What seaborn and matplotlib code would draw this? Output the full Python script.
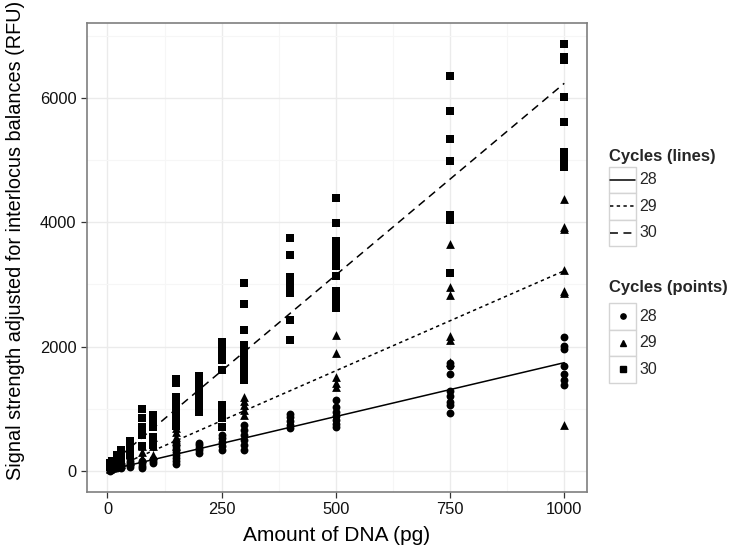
import numpy as np
import pandas as pd
import matplotlib
matplotlib.use("Agg")
import matplotlib.pyplot as plt
from matplotlib.patches import Rectangle
from matplotlib.lines import Line2D
import seaborn as sns

# ---------------- data ----------------
amounts = [5, 10, 20, 30, 50, 75, 100, 150, 200, 250, 300, 400, 500, 750, 1000]

rfu_28 = [[0, 20, 30, 40], [20, 40, 60], [40, 60, 90], [50, 80, 110],
          [60, 90, 120, 150], [40, 80, 130, 160], [120, 160, 190],
          [100, 150, 200, 250, 300, 350, 400, 450],
          [290, 330, 370, 410, 450],
          [340, 400, 460, 520, 580],
          [340, 420, 500, 580, 660, 740],
          [680, 740, 800, 860, 920],
          [700, 760, 820, 880, 950, 1030, 1140],
          [930, 1060, 1110, 1210, 1290, 1560, 1690, 1740],
          [1380, 1460, 1560, 1680, 1960, 2010, 2150]]

rfu_29 = [[30, 50], [50, 80], [80, 120], [100, 160], [150, 250],
          [200, 300, 400], [250, 400, 550],
          [400, 480, 550, 620, 680],
          [], [],
          [900, 980, 1050, 1120, 1190],
          [],
          [1350, 1420, 1510, 1900, 2190],
          [1750, 2110, 2170, 2830, 2960, 3650],
          [740, 2870, 2900, 3230, 3900, 3930, 4380]]

rfu_30 = [[60, 90, 120], [90, 130, 160], [120, 180, 250], [150, 250, 340],
          [250, 350, 480], [400, 580, 700, 850, 1000],
          [420, 550, 700, 800, 900],
          [720, 800, 900, 1000, 1100, 1190, 1420, 1480],
          [950, 1050, 1150, 1250, 1370, 1470, 1520],
          [710, 850, 950, 1060, 1620, 1790, 1850, 1930, 2000, 2080],
          [1460, 1500, 1600, 1700, 1800, 1900, 2030, 2270, 2690, 3020],
          [2110, 2430, 2860, 2950, 3050, 3120, 3470, 3745],
          [2620, 2650, 2750, 2820, 2900, 3135, 3300, 3400, 3480, 3550, 3620,
           3700, 3990, 4400],
          [3185, 4037, 4118, 4986, 5340, 5790, 6354],
          [4890, 5000, 5130, 5610, 6015, 6610, 6660, 6868]]

cycles = ["28", "29", "30"]
fit_intercept = [5, 0, 65]
fit_slope = [1.735, 3.22, 6.175]

x_ticks = [0, 250, 500, 750, 1000]
y_ticks = [0, 2000, 4000, 6000]

# ---------------- frames ----------------
rows = []
for cyc, series in zip(cycles, [rfu_28, rfu_29, rfu_30]):
    for amt, vals in zip(amounts, series):
        for v in vals:
            rows.append((amt, v, cyc))
df = pd.DataFrame(rows, columns=["amount", "rfu", "cycle"])

fit_rows = []
for cyc, a, b in zip(cycles, fit_intercept, fit_slope):
    for amt in [min(amounts), max(amounts)]:
        fit_rows.append((amt, a + b * amt, cyc))
fit_df = pd.DataFrame(fit_rows, columns=["amount", "rfu", "cycle"])

# ---------------- style ----------------
sns.set_theme(style="white")
plt.rcParams["font.family"] = ["Liberation Sans", "DejaVu Sans"]

W, H = 730, 556
fig = plt.figure(figsize=(W / 100, H / 100), dpi=100)
L, R, T, B = 87, 587, 23, 492
ax = fig.add_axes([L / W, 1 - B / H, (R - L) / W, (B - T) / H])

markers = {"28": "o", "29": "^", "30": "s"}
msize = {"28": 32, "29": 40, "30": 30}
lw = 1.1
dashes = {"28": "", "29": (2.2, 2.2), "30": (5.2, 3.6)}

sns.lineplot(data=fit_df, x="amount", y="rfu", style="cycle", dashes=dashes,
             color="black", linewidth=lw, legend=False, ax=ax, zorder=2,
             estimator=None, sort=True)
for cyc in cycles:
    sns.scatterplot(data=df[df["cycle"] == cyc], x="amount", y="rfu",
                    marker=markers[cyc], color="black", s=msize[cyc],
                    linewidth=0, legend=False, ax=ax, zorder=3)

ax.set_xlim(-44.75, 1049.75)
ax.set_ylim(-343.4, 7211.4)
ax.set_xticks(x_ticks)
ax.set_yticks(y_ticks)
ax.set_xticks([125, 375, 625, 875], minor=True)
ax.set_yticks([1000, 3000, 5000, 7000], minor=True)
ax.grid(True, which="major", color="#EBEBEB", linewidth=1.0, zorder=0)
ax.grid(True, which="minor", color="#F6F6F6", linewidth=0.8, zorder=0)
ax.set_axisbelow(True)
for sp in ax.spines.values():
    sp.set_color("#7F7F7F")
    sp.set_linewidth(1.2)
ax.tick_params(axis="both", which="major", length=4.0, width=0.9,
               color="#333333", labelsize=11.8, labelcolor="#111111",
               pad=3.5, left=True, bottom=True)
ax.tick_params(axis="both", which="minor", length=0)

ax.set_xlabel("Amount of DNA (pg)", fontsize=15, color="black", labelpad=6)
ax.set_ylabel("Signal strength adjusted for interlocus balances (RFU)",
              fontsize=14.3, color="black")
ax.yaxis.set_label_coords((25 - L) / (R - L), (B - 240) / (B - T))

# ---------------- legends (ggplot-style keys) ----------------
lg = fig.add_axes([0, 0, 1, 1], facecolor="none")
lg.set_xlim(0, W)
lg.set_ylim(H, 0)
lg.axis("off")

kx, kw, kh = 609, 27, 26.5
lg.text(kx, 156, "Cycles (lines)", fontsize=12, fontweight="bold",
        va="center", ha="left")
for i, cyc in enumerate(cycles):
    y0 = 166.5 + i * kh
    lg.add_patch(Rectangle((kx, y0), kw, kh, facecolor="white",
                           edgecolor="#D4D4D4", linewidth=1.0))
    ln = Line2D([kx + 1, kx + kw - 1], [y0 + kh / 2] * 2, color="black",
                linewidth=lw)
    if dashes[cyc]:
        ln.set_dashes(dashes[cyc])
    lg.add_line(ln)
    lg.text(kx + kw + 3, y0 + kh / 2, cyc, fontsize=11.5, va="center",
            ha="left")

lg.text(kx, 287.5, "Cycles (points)", fontsize=12, fontweight="bold",
        va="center", ha="left")
for i, cyc in enumerate(cycles):
    y0 = 303 + i * kh
    lg.add_patch(Rectangle((kx, y0), kw, kh, facecolor="white",
                           edgecolor="#D4D4D4", linewidth=1.0))
    lg.plot([kx + kw / 2], [y0 + kh / 2], marker=markers[cyc], color="black",
            markersize=3.8, linestyle="none")
    lg.text(kx + kw + 3, y0 + kh / 2, cyc, fontsize=11.5, va="center",
            ha="left")

fig.savefig("out.png", dpi=100)
